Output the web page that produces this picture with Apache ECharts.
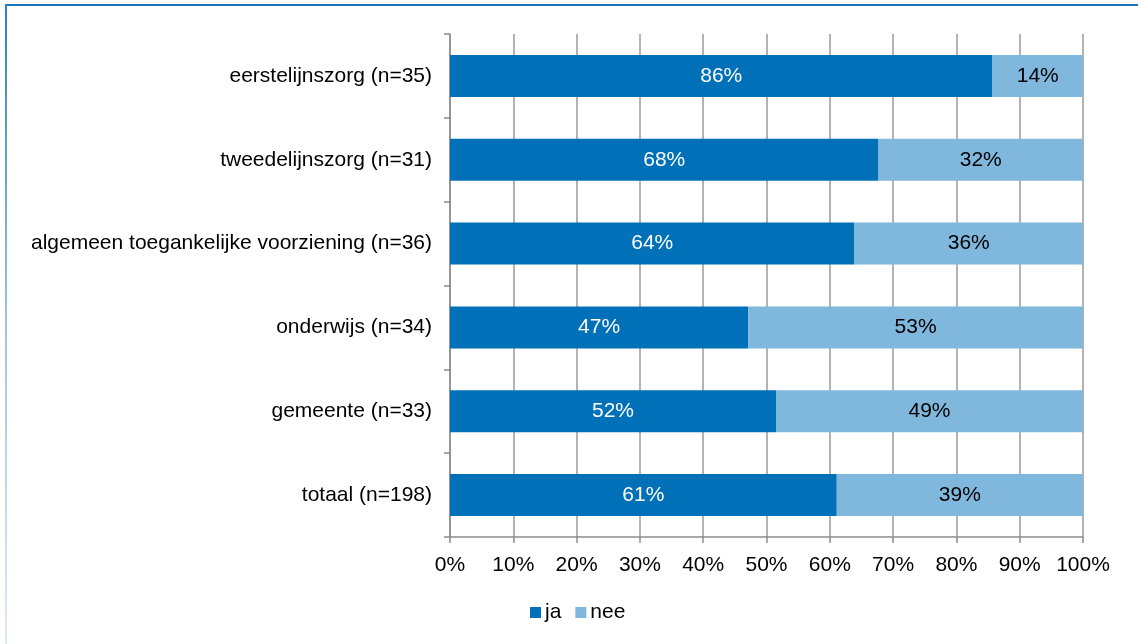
<!DOCTYPE html>
<html><head><meta charset="utf-8">
<script src="https://cdn.jsdelivr.net/npm/echarts@6/dist/echarts.min.js"></script>
<style>html,body{margin:0;padding:0;background:#fff}#c{width:1138px;height:644px}</style>
</head><body><div id="c"></div>
<script>
const categories = ['eerstelijnszorg (n=35)','tweedelijnszorg (n=31)','algemeen toegankelijke voorziening (n=36)','onderwijs (n=34)','gemeente (n=33)','totaal (n=198)'];
const jaValues = [85.7, 67.7, 63.9, 47.1, 51.5, 61.1];
const neeValues = [14.3, 32.3, 36.1, 52.9, 48.5, 38.9];

const font = 'Liberation Sans, Arial, sans-serif';
const fs = 21;
const chart = echarts.init(document.getElementById('c'), null, {renderer:'canvas'});
chart.setOption({
  animation:false,
  backgroundColor:'#fff',
  textStyle:{fontFamily:font},
  graphic:[
    {type:'line', shape:{x1:6,y1:5,x2:1138,y2:5}, style:{stroke:'#1b75bb', lineWidth:2}, z:10},
    {type:'line', shape:{x1:6,y1:4,x2:6,y2:644}, style:{stroke:{type:'linear',x:0,y:0,x2:0,y2:1,colorStops:[{offset:0,color:'#2a80c4'},{offset:0.5,color:'#9fc3ea'},{offset:1,color:'#e1eaf8'}]}, lineWidth:2}, z:10}
  ],
  legend:{
    data:['ja','nee'], top:597, left:525, itemWidth:11, itemHeight:11, itemGap:14,
    icon:'rect', textStyle:{fontSize:fs, color:'#000', fontFamily:font, padding:[0,0,0,-1]}
  },
  grid:{left:450, right:55, top:34, bottom:107, containLabel:false},
  xAxis:{
    type:'value', min:0, max:100, interval:10,
    axisLine:{show:true, lineStyle:{color:'#8c8c8c', width:1.5}},
    axisTick:{show:true, length:6, lineStyle:{color:'#8c8c8c', width:1.5}},
    splitLine:{show:true, lineStyle:{color:'#9a9a9a', width:1.5}},
    axisLabel:{formatter:v=>v+'%', fontSize:fs, color:'#000', margin:18, fontFamily:font}
  },
  yAxis:{
    type:'category', data:categories, inverse:true,
    axisLine:{show:true, lineStyle:{color:'#8c8c8c', width:1.5}},
    axisTick:{show:true, length:6, lineStyle:{color:'#8c8c8c', width:1.5}},
    axisLabel:{fontSize:fs, color:'#000', margin:18, fontFamily:font}
  },
  series:[
    {name:'ja', type:'bar', stack:'s', data:jaValues, barWidth:42, itemStyle:{color:'#0070b8'},
     label:{show:true, position:'inside', color:'#fff', fontSize:fs, fontFamily:font, formatter:p=>Math.round(p.value)+'%'}},
    {name:'nee', type:'bar', stack:'s', data:neeValues, barWidth:42, itemStyle:{color:'#7fb7dd'},
     label:{show:true, position:'inside', color:'#000', fontSize:fs, fontFamily:font, formatter:p=>Math.round(p.value)+'%'}}
  ]
});
</script></body></html>
